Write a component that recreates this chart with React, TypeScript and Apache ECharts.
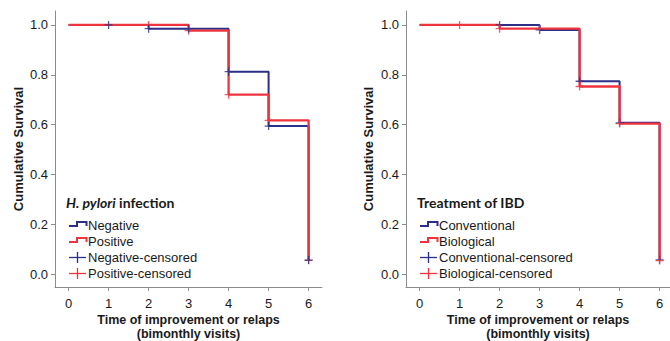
import React, { useEffect, useRef } from "react";
import * as echarts from "echarts";

// ---- data ----
const xTicks = [0, 1, 2, 3, 4, 5, 6];
const yTicks = [0, 0.2, 0.4, 0.6, 0.8, 1.0];

const hpNegative = [[0, 1], [2, 0.985], [4, 0.8125], [5, 0.594], [6, 0.056]];
const hpPositive = [[0, 1], [3, 0.977], [4, 0.72], [5, 0.617], [6, 0.055]];
const hpNegativeCensored = [[1, 1], [2, 0.985], [3, 0.985], [4, 0.8125], [5, 0.594], [6, 0.056]];
const hpPositiveCensored = [[2, 1], [3, 0.977], [4, 0.72], [5, 0.617], [6, 0.055]];

const ibdConventional = [[0, 1], [3, 0.98], [4, 0.774], [5, 0.607], [6, 0.057]];
const ibdBiological = [[0, 1], [2, 0.985], [4, 0.753], [5, 0.604], [6, 0.054]];
const ibdConventionalCensored = [[2, 1], [3, 0.98], [4, 0.774], [5, 0.607], [6, 0.057]];
const ibdBiologicalCensored = [[1, 1], [2, 0.985], [3, 0.985], [4, 0.753], [5, 0.604], [6, 0.054]];

const hpLegend = ["Negative", "Positive", "Negative-censored", "Positive-censored"];
const ibdLegend = ["Conventional", "Biological", "Conventional-censored", "Biological-censored"];

const xAxisName1 = "Time of improvement or relaps";
const xAxisName2 = "(bimonthly visits)";
const yAxisName = "Cumulative Survival";

const BLUE = "#2b2f86";
const RED = "#f0343e";
const AXIS = "#8c8c8c";
const TXT = "#1a1a1a";
const FONT = "Liberation Sans, Arial, sans-serif";
const CROSS = "path://M0,3.35H8V4.65H0Z M3.35,0H4.65V8H3.35Z";

function makeAxes(gridIndex: number, xmin: number, xmax: number) {
  const x = {
    type: "value",
    gridIndex,
    min: xmin,
    max: xmax,
    axisLine: { show: true, onZero: false, lineStyle: { color: AXIS, width: 1 } },
    axisTick: { show: true, customValues: xTicks, length: 4, lineStyle: { color: AXIS } },
    axisLabel: { customValues: xTicks, margin: 10, fontSize: 13, color: TXT, fontFamily: FONT },
    splitLine: { show: false },
  };
  const y = {
    type: "value",
    gridIndex,
    min: -0.052,
    max: 1.056,
    axisLine: { show: true, onZero: false, lineStyle: { color: AXIS, width: 1 } },
    axisTick: { show: true, customValues: yTicks, length: 4, lineStyle: { color: AXIS } },
    axisLabel: {
      customValues: yTicks,
      margin: 7,
      fontSize: 13,
      color: TXT,
      fontFamily: FONT,
      formatter: (v: number) => v.toFixed(1),
    },
    splitLine: { show: false },
  };
  return { x, y };
}

function stepSeries(data: number[][], color: string, idx: number, width: number) {
  return {
    type: "line",
    xAxisIndex: idx,
    yAxisIndex: idx,
    data,
    step: "end",
    symbol: "none",
    lineStyle: { color, width },
    z: 2,
  };
}

function censorSeries(data: number[][], color: string, idx: number, z: number) {
  return {
    type: "scatter",
    xAxisIndex: idx,
    yAxisIndex: idx,
    data,
    symbol: CROSS,
    symbolSize: 8,
    itemStyle: { color },
    z,
  };
}

function legendGraphics(x0: number, titleRich: any, labels: string[]) {
  const rows = [225.5, 241.5, 257.5, 273.5];
  const els: any[] = [];
  els.push({
    type: "text",
    x: x0 - 3,
    y: 202.5,
    style: {
      ...titleRich,
      fontFamily: "Lato, sans-serif",
      fontWeight: "bold",
      fontSize: 14,
      fill: TXT,
      verticalAlign: "middle",
      align: "left",
    },
  });
  const ix = x0;
  [BLUE, RED].forEach((c, i) => {
    const b = rows[i] + 0.5;
    const t = rows[i] - 3.5;
    els.push({
      type: "polyline",
      shape: { points: [[ix, b], [ix + 8, b], [ix + 8, t], [ix + 17.5, t], [ix + 17.5, b]] },
      style: { stroke: c, lineWidth: 2, fill: null },
    });
  });
  [BLUE, RED].forEach((c, i) => {
    const y = rows[i + 2];
    els.push({
      type: "line",
      shape: { x1: ix, y1: y, x2: ix + 17, y2: y },
      style: { stroke: c, lineWidth: 1.3 },
    });
    els.push({
      type: "line",
      shape: { x1: ix + 8.5, y1: y - 5.5, x2: ix + 8.5, y2: y + 5.5 },
      style: { stroke: c, lineWidth: 1.3 },
    });
  });
  labels.forEach((l, i) => {
    els.push({
      type: "text",
      x: ix + 19,
      y: rows[i],
      style: { text: l, fontFamily: FONT, fontSize: 13, fill: TXT, verticalAlign: "middle", align: "left" },
    });
  });
  return els;
}

function axisNameGraphics(cx: number, ycx: number) {
  return [
    {
      type: "text",
      x: cx,
      y: 313,
      style: {
        text: xAxisName1 + "\n" + xAxisName2,
        fontFamily: FONT,
        fontWeight: "bold",
        fontSize: 12.5,
        lineHeight: 14,
        fill: TXT,
        align: "center",
        verticalAlign: "top",
      },
    },
    {
      type: "text",
      x: ycx,
      y: 149,
      rotation: Math.PI / 2,
      style: { text: yAxisName, fontFamily: FONT, fontWeight: "bold", fontSize: 13, fill: TXT, align: "center", verticalAlign: "middle" },
    },
  ];
}

export default function App() {
  const ref = useRef<HTMLDivElement>(null);
  useEffect(() => {
    if (!ref.current) return;
    const chart = echarts.init(ref.current, undefined, { renderer: "svg", width: 670, height: 341 });
    const a1 = makeAxes(0, -0.34, -0.34 + 267 / 40);
    const a2 = makeAxes(1, -0.34, -0.34 + 264 / 40);
    const option: any = {
      animation: false,
      backgroundColor: "#ffffff",
      grid: [
        { left: 55, top: 11, width: 267, height: 276 },
        { left: 406, top: 11, width: 264, height: 276 },
      ],
      xAxis: [a1.x, a2.x],
      yAxis: [a1.y, a2.y],
      series: [
        stepSeries(hpNegative, BLUE, 0, 2),
        stepSeries(hpPositive, RED, 0, 2.3),
        censorSeries(hpPositiveCensored, RED, 0, 3),
        censorSeries(hpNegativeCensored, BLUE, 0, 4),
        stepSeries(ibdConventional, BLUE, 1, 2),
        stepSeries(ibdBiological, RED, 1, 2.3),
        censorSeries(ibdConventionalCensored, BLUE, 1, 3),
        censorSeries(ibdBiologicalCensored, RED, 1, 4),
      ],
      graphic: [
        ...legendGraphics(69, {
          text: "{i|H. pylori} infection",
          rich: { i: { fontStyle: "italic", fontWeight: "bold", fontFamily: "Lato, sans-serif", fontSize: 14, fill: TXT } },
        }, hpLegend),
        ...legendGraphics(420, { text: "Treatment of IBD" }, ibdLegend),
        ...axisNameGraphics(188.5, 18),
        ...axisNameGraphics(538, 368),
      ],
    };
    chart.setOption(option);
    return () => chart.dispose();
  }, []);
  return (
    <div
      ref={ref}
      style={{ position: "fixed", left: 0, top: 0, width: 670, height: 341, background: "#fff" }}
    />
  );
}
